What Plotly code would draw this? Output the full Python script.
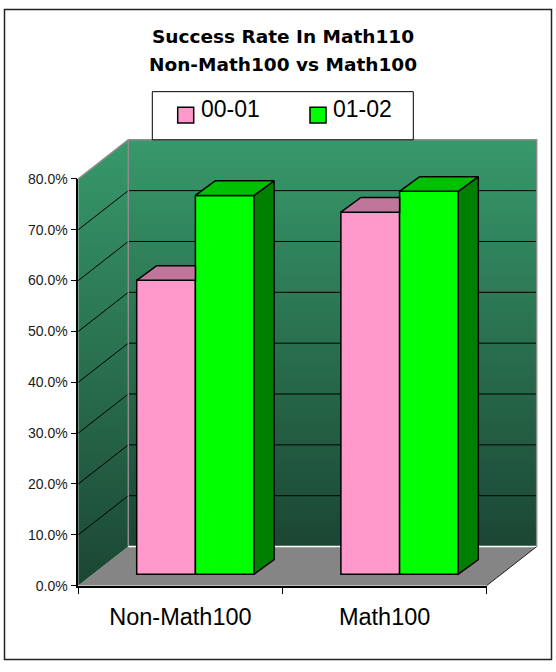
import plotly.graph_objects as go

# ---------------- data ----------------
categories = ["Non-Math100", "Math100"]
series_names = ["00-01", "01-02"]
rate_00_01 = [0.578, 0.712]
rate_01_02 = [0.745, 0.753]
y_tick_vals = [0.0, 0.1, 0.2, 0.3, 0.4, 0.5, 0.6, 0.7, 0.8]
title_line_1 = "Success Rate In Math110"
title_line_2 = "Non-Math100 vs Math100"

# ---------------- styling / geometry ----------------
W, H = 556, 672
PINK, PINK_TOP = "#FF99CC", "#C0769A"
GREEN, GREEN_TOP, GREEN_SIDE = "#00FF00", "#00C000", "#008000"
WALL_SCALE = [[0, "#1b4633"], [1, "#37996b"]]
FLOOR = "#858585"
EDGE_GRAY = "#8c8c8c"

FX0, FX1 = 78.3, 486.7      # front plane x extent (px)
FY0, FY80 = 591.7, 175.0    # front plane 0% / 80% (px)
CAT_PX = (FX1 - FX0) / len(categories)
VAL_PX = (FY0 - FY80) / y_tick_vals[-1]


def fx(p):
    return p / W


def fy(p):
    return 1 - p / H


def ddx(p):
    return p / CAT_PX


def ddy(p):
    return p / VAL_PX


def px2x(p):
    return -0.5 + (p - FX0) / CAT_PX


WX, WY = ddx(50), ddy(40)          # wall depth
BX, BY = ddx(15), ddy(11.7)        # bar plane offset
DX, DY = ddx(20), ddy(15)          # bar depth
BW = ddx(58.7)                     # bar width
L, R = -0.5, len(categories) - 0.5
TOP = y_tick_vals[-1]

SX0, SX1, SY0, SY1 = 72, 543, 598, 128
scene_xr = [px2x(SX0), px2x(SX1)]
scene_yr = [(FY0 - SY0) / VAL_PX, (FY0 - SY1) / VAL_PX]

fig = go.Figure()

# ---------------- walls & floor (subplot x/y) ----------------
fig.add_trace(go.Scatter(
    x=[L, R, R + WX, L + WX, L], y=[0, 0, WY, WY, 0], mode="lines",
    fill="toself", fillcolor=FLOOR, line=dict(width=0), hoverinfo="skip",
    xaxis="x", yaxis="y"))
fig.add_trace(go.Scatter(
    x=[L, L + WX, L + WX, L, L], y=[0, WY, TOP + WY, TOP, 0], mode="lines",
    fill="toself", fillgradient=dict(type="vertical", colorscale=WALL_SCALE),
    line=dict(width=0), hoverinfo="skip", xaxis="x", yaxis="y"))
fig.add_trace(go.Scatter(
    x=[L + WX, R + WX, R + WX, L + WX, L + WX],
    y=[WY, WY, TOP + WY, TOP + WY, WY], mode="lines",
    fill="toself", fillgradient=dict(type="vertical", colorscale=WALL_SCALE),
    line=dict(width=0), hoverinfo="skip", xaxis="x", yaxis="y"))

grid_vals = [v for v in y_tick_vals if 0 < v < TOP]
gx, gy, sx, sy = [], [], [], []
for v in grid_vals:
    gx += [L + WX, R + WX, None]
    gy += [v + WY, v + WY, None]
    sx += [L, L + WX, None]
    sy += [v, v + WY, None]
fig.add_trace(go.Scatter(x=gx, y=gy, mode="lines", line=dict(color="black", width=1),
                         hoverinfo="skip", xaxis="x", yaxis="y"))
fig.add_trace(go.Scatter(x=sx, y=sy, mode="lines", line=dict(color="black", width=1),
                         hoverinfo="skip", xaxis="x", yaxis="y"))
# wall edges
fig.add_trace(go.Scatter(
    x=[L, L + WX, R + WX, R + WX], y=[TOP, TOP + WY, TOP + WY, WY], mode="lines",
    line=dict(color=EDGE_GRAY, width=1.5), hoverinfo="skip", xaxis="x", yaxis="y"))
fig.add_trace(go.Scatter(
    x=[L + WX, L + WX], y=[WY, TOP + WY], mode="lines",
    line=dict(color=EDGE_GRAY, width=1.5), hoverinfo="skip", xaxis="x", yaxis="y"))
fig.add_trace(go.Scatter(
    x=[L + WX, R + WX], y=[WY, WY], mode="lines",
    line=dict(color="white", width=1.5), hoverinfo="skip", xaxis="x", yaxis="y"))
fig.add_trace(go.Scatter(
    x=[R, R + WX], y=[0, WY], mode="lines",
    line=dict(color="#222222", width=1), hoverinfo="skip", xaxis="x", yaxis="y"))

# ---------------- bars (subplot x2/y2 overlaying) ----------------
xpos = list(range(len(categories)))
series = [(series_names[0], rate_00_01, PINK, PINK_TOP, -BW),
          (series_names[1], rate_01_02, GREEN, GREEN_TOP, 0.0)]
for name, vals, col, _, off in series:
    fig.add_trace(go.Bar(
        x=xpos, y=vals, base=BY, offset=off + BX, width=BW, name=name,
        marker=dict(color=col, line=dict(color="black", width=1.5)),
        showlegend=False, xaxis="x2", yaxis="y2"))

# pink tops (visible part, left of the green bar)
for i, v in enumerate(rate_00_01):
    x0 = i - BW + BX
    x1 = x0 + BW
    yt = BY + v
    fig.add_trace(go.Scatter(
        x=[x0, x1, x1, x0 + DX, x0], y=[yt, yt, yt + DY, yt + DY, yt],
        mode="lines", fill="toself", fillcolor=PINK_TOP,
        line=dict(color="black", width=1.5), hoverinfo="skip",
        showlegend=False, xaxis="x2", yaxis="y2"))
# green tops and sides
for i, v in enumerate(rate_01_02):
    x0 = i + BX
    x1 = x0 + BW
    yt = BY + v
    fig.add_trace(go.Scatter(
        x=[x1, x1 + DX, x1 + DX, x1, x1], y=[BY, BY + DY, yt + DY, yt, BY],
        mode="lines", fill="toself", fillcolor=GREEN_SIDE,
        line=dict(color="black", width=1.5), hoverinfo="skip",
        showlegend=False, xaxis="x2", yaxis="y2"))
    fig.add_trace(go.Scatter(
        x=[x0, x1, x1 + DX, x0 + DX, x0], y=[yt, yt, yt + DY, yt + DY, yt],
        mode="lines", fill="toself", fillcolor=GREEN_TOP,
        line=dict(color="black", width=1.5), hoverinfo="skip",
        showlegend=False, xaxis="x2", yaxis="y2"))

# dummy (empty) trace so the front axes subplot is created
fig.add_trace(go.Scatter(x=[], y=[], xaxis="x3", yaxis="y3", showlegend=False))

hidden = dict(visible=False, showgrid=False, zeroline=False, fixedrange=True)
fig.update_layout(
    width=W, height=H,
    margin=dict(l=0, r=0, t=0, b=0),
    paper_bgcolor="white", plot_bgcolor="rgba(0,0,0,0)",
    showlegend=False, barmode="overlay",
    xaxis=dict(domain=[fx(SX0), fx(SX1)], range=scene_xr, anchor="y", **hidden),
    yaxis=dict(domain=[fy(SY0), fy(SY1)], range=scene_yr, anchor="x", **hidden),
    xaxis2=dict(overlaying="x", range=scene_xr, anchor="y2", **hidden),
    yaxis2=dict(overlaying="y", range=scene_yr, anchor="x2", **hidden),
    xaxis3=dict(domain=[fx(FX0), fx(FX1)], range=[L, R], anchor="y3",
                tickmode="array", tickvals=xpos, ticktext=categories, ticks="",
                showline=True, linecolor="black", linewidth=2,
                showgrid=False, zeroline=False,
                tickfont=dict(family="Liberation Sans, Arial", size=23.5, color="black"),
                ticklabelstandoff=9,
                minor=dict(tickmode="array", tickvals=[L + k for k in range(len(categories) + 1)],
                           ticks="outside", ticklen=6, tickcolor="black", tickwidth=1)),
    yaxis3=dict(domain=[fy(FY0), fy(FY80)], range=[0, TOP], anchor="x3",
                tickmode="array", tickvals=y_tick_vals, tickformat=".1%",
                ticks="outside", ticklen=6, tickcolor="black", tickwidth=1,
                showline=True, linecolor="black", linewidth=1.5,
                showgrid=False, zeroline=False,
                tickfont=dict(family="Liberation Sans, Arial", size=14, color="#1a1a1a")),
)

# ---------------- title ----------------
for txt, yc in [(title_line_1, 29.0), (title_line_2, 58.0)]:
    fig.add_annotation(text="<b>%s</b>" % txt, xref="paper", yref="paper",
                       x=fx(282.7), y=fy(yc), xanchor="center", yanchor="middle",
                       showarrow=False,
                       font=dict(family="DejaVu Sans", size=18.5, color="black"))

# ---------------- legend (box, keys, labels) ----------------
fig.add_shape(type="rect", xref="paper", yref="paper",
              x0=fx(152.3), x1=fx(413.3), y0=fy(135), y1=fy(85.7),
              line=dict(color="black", width=1), fillcolor="white", layer="above")
legend_keys = [(series_names[0], PINK, 177.7, 200.0),
               (series_names[1], GREEN, 310.0, 331.7)]
for name, col, sxp, txp in legend_keys:
    fig.add_shape(type="rect", xref="paper", yref="paper",
                  x0=fx(sxp), x1=fx(sxp + 16), y0=fy(117.7), y1=fy(101.7),
                  line=dict(color="black", width=1.5), fillcolor=col, layer="above")
    fig.add_annotation(text=name, xref="paper", yref="paper",
                       x=fx(txp - 1), y=fy(103.0), xanchor="left", yanchor="middle",
                       showarrow=False,
                       font=dict(family="Liberation Sans, Arial", size=23, color="black"))

# ---------------- chart border ----------------
fig.add_shape(type="rect", xref="paper", yref="paper",
              x0=fx(4.5), x1=fx(551.5), y0=fy(667.5), y1=fy(1.5),
              line=dict(color="#222222", width=1.5), layer="above")

fig.write_html("out.html")
